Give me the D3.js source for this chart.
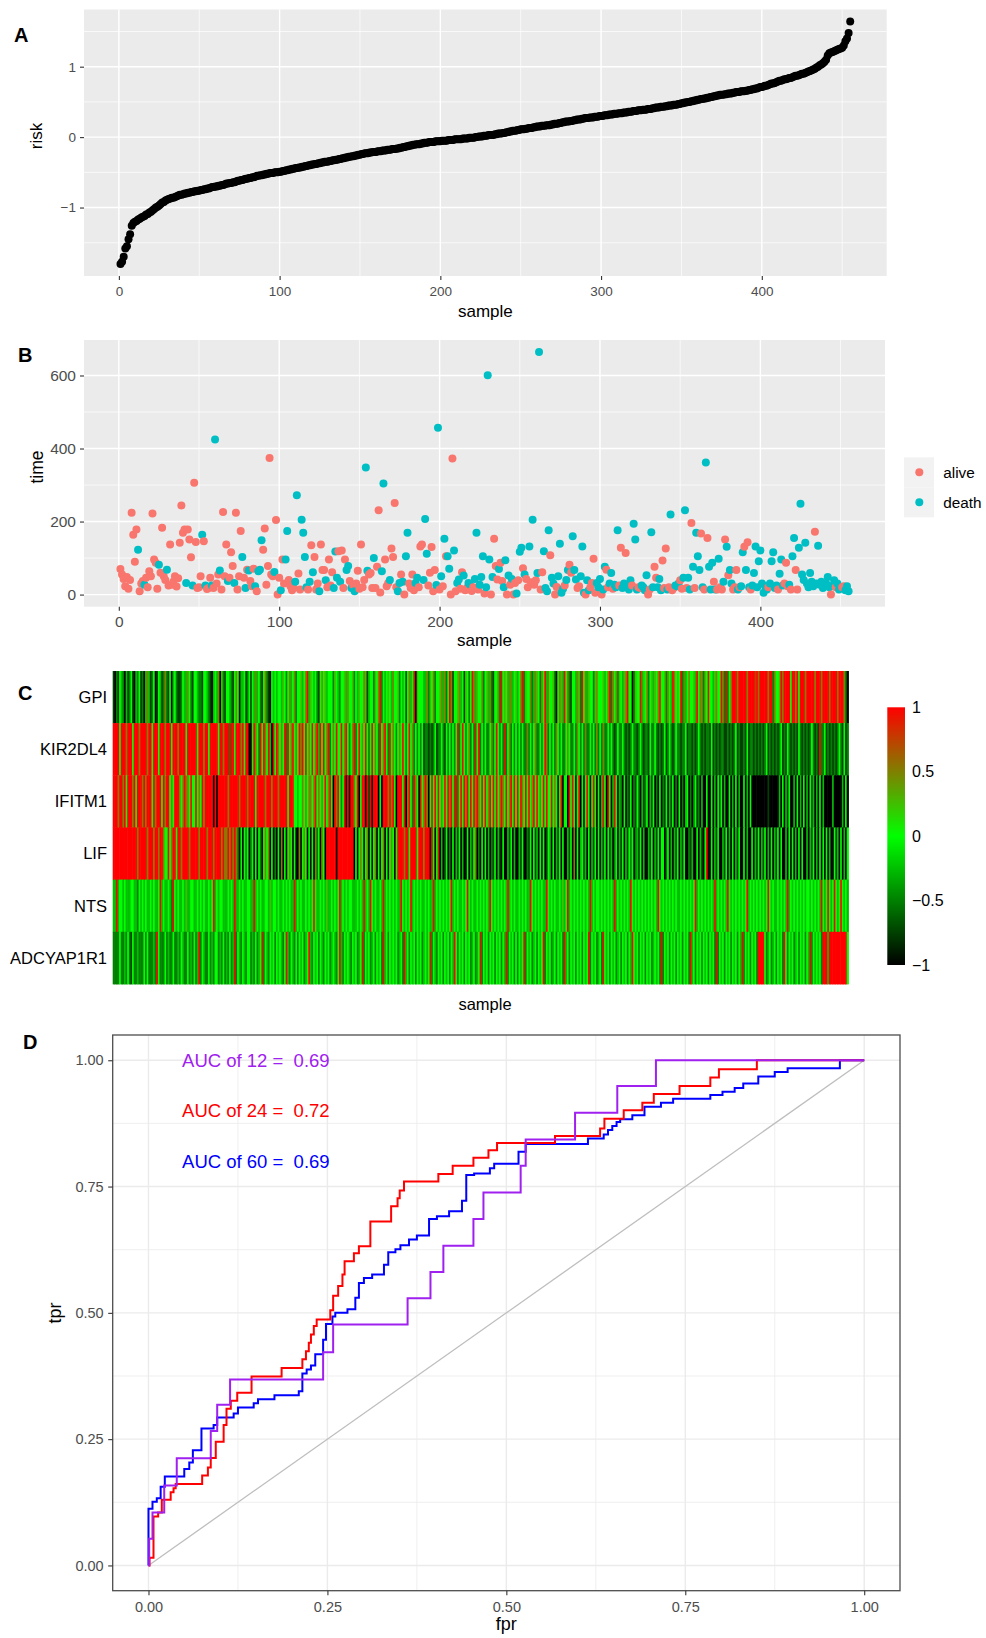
<!DOCTYPE html>
<html><head><meta charset="utf-8">
<script src="https://cdn.jsdelivr.net/npm/d3@7"></script>
<style>body{margin:0;background:#fff}svg{display:block}</style>
</head><body><svg id="c" width="986" height="1638"></svg>
<script>
// ---------------- DATA ----------------
// Panel A: sorted risk score per sample (samples 1..455)
const riskValues = [
-1.80,-1.77,-1.70,-1.58,-1.55,-1.45,-1.38,-1.26,-1.22,-1.20,
-1.19,-1.17,-1.16,-1.14,-1.13,-1.12,-1.10,-1.09,-1.07,-1.06,
-1.04,-1.02,-1.00,-0.99,-0.97,-0.95,-0.93,-0.92,-0.90,-0.89,
-0.88,-0.87,-0.86,-0.86,-0.85,-0.84,-0.83,-0.82,-0.82,-0.81,
-0.80,-0.80,-0.79,-0.79,-0.78,-0.78,-0.77,-0.77,-0.76,-0.76,
-0.75,-0.75,-0.74,-0.74,-0.73,-0.73,-0.72,-0.71,-0.71,-0.70,
-0.70,-0.69,-0.69,-0.68,-0.68,-0.67,-0.66,-0.66,-0.65,-0.65,
-0.64,-0.64,-0.63,-0.62,-0.62,-0.61,-0.61,-0.60,-0.59,-0.59,
-0.58,-0.58,-0.57,-0.57,-0.56,-0.55,-0.55,-0.54,-0.54,-0.53,
-0.53,-0.52,-0.52,-0.51,-0.51,-0.51,-0.50,-0.50,-0.50,-0.49,
-0.49,-0.48,-0.48,-0.47,-0.47,-0.46,-0.46,-0.45,-0.45,-0.44,
-0.44,-0.43,-0.43,-0.42,-0.42,-0.41,-0.41,-0.40,-0.40,-0.39,
-0.39,-0.38,-0.38,-0.37,-0.37,-0.36,-0.36,-0.35,-0.35,-0.35,
-0.34,-0.34,-0.33,-0.33,-0.32,-0.32,-0.31,-0.31,-0.30,-0.30,
-0.29,-0.29,-0.28,-0.28,-0.27,-0.27,-0.26,-0.26,-0.25,-0.25,
-0.24,-0.24,-0.23,-0.23,-0.23,-0.22,-0.22,-0.21,-0.21,-0.21,
-0.20,-0.20,-0.20,-0.19,-0.19,-0.19,-0.18,-0.18,-0.18,-0.17,
-0.17,-0.17,-0.16,-0.16,-0.15,-0.15,-0.14,-0.14,-0.13,-0.13,
-0.12,-0.12,-0.11,-0.11,-0.10,-0.10,-0.10,-0.09,-0.09,-0.08,
-0.08,-0.08,-0.07,-0.07,-0.07,-0.07,-0.06,-0.06,-0.06,-0.06,
-0.05,-0.05,-0.05,-0.05,-0.04,-0.04,-0.04,-0.04,-0.03,-0.03,
-0.03,-0.03,-0.03,-0.02,-0.02,-0.02,-0.02,-0.01,-0.01,-0.01,
-0.01,0.00,0.00,0.01,0.01,0.01,0.02,0.02,0.02,0.03,
0.03,0.03,0.03,0.04,0.04,0.05,0.05,0.05,0.06,0.06,
0.07,0.07,0.08,0.08,0.09,0.09,0.09,0.10,0.10,0.11,
0.11,0.11,0.12,0.12,0.13,0.13,0.13,0.14,0.14,0.15,
0.15,0.15,0.16,0.16,0.16,0.17,0.17,0.17,0.18,0.18,
0.19,0.19,0.19,0.20,0.20,0.21,0.21,0.22,0.22,0.22,
0.23,0.23,0.24,0.24,0.25,0.25,0.25,0.26,0.26,0.27,
0.27,0.27,0.28,0.28,0.28,0.29,0.29,0.29,0.30,0.30,
0.30,0.31,0.31,0.31,0.32,0.32,0.32,0.33,0.33,0.33,
0.34,0.34,0.34,0.35,0.35,0.35,0.36,0.36,0.36,0.37,
0.37,0.37,0.38,0.38,0.38,0.39,0.39,0.39,0.40,0.40,
0.40,0.41,0.41,0.42,0.42,0.42,0.43,0.43,0.43,0.44,
0.44,0.45,0.45,0.45,0.46,0.46,0.46,0.47,0.47,0.48,
0.48,0.49,0.49,0.50,0.50,0.51,0.51,0.52,0.52,0.53,
0.53,0.54,0.54,0.55,0.55,0.56,0.56,0.57,0.57,0.58,
0.58,0.59,0.59,0.60,0.60,0.60,0.61,0.61,0.62,0.62,
0.62,0.63,0.63,0.64,0.64,0.64,0.65,0.65,0.65,0.66,
0.66,0.67,0.67,0.68,0.68,0.69,0.69,0.70,0.71,0.71,
0.72,0.73,0.73,0.74,0.75,0.76,0.76,0.77,0.78,0.79,
0.80,0.80,0.81,0.82,0.82,0.83,0.84,0.84,0.85,0.86,
0.87,0.87,0.88,0.89,0.90,0.90,0.91,0.92,0.93,0.94,
0.95,0.96,0.97,0.99,1.00,1.02,1.03,1.05,1.07,1.10,
1.16,1.19,1.20,1.21,1.22,1.23,1.24,1.25,1.26,1.27,
1.30,1.36,1.40,1.48,1.64];

// Panel B: survival time per sample (same order)
const timeValues = [
70,55,43,23,48,16,40,224,164,90,
178,123,9,30,37,27,46,20,64,50,
222,96,87,16,82,60,183,50,40,68,
25,137,27,35,50,22,45,142,244,169,
178,32,178,151,102,25,306,144,18,20,
50,164,146,25,15,18,46,25,18,425,
30,55,66,14,226,50,137,37,46,116,
78,32,224,14,50,174,103,46,18,68,
66,37,23,71,23,9,64,68,149,123,
181,27,78,374,55,50,62,204,0,46,
12,96,30,96,174,40,23,12,18,35,
272,58,14,205,169,103,20,14,35,135,
61,103,14,30,9,137,67,67,39,20,
96,25,61,18,118,46,119,35,121,18,
96,67,78,37,18,27,9,30,65,16,
137,20,40,348,65,55,59,18,100,18,
76,231,6,64,304,96,23,32,40,126,
103,251,20,9,32,55,35,0,105,169,
30,18,55,12,32,46,20,132,137,40,
207,112,25,60,130,9,67,26,457,14,
50,23,153,105,105,71,0,373,121,9,
32,41,16,61,52,12,18,32,27,10,
20,43,169,14,27,48,105,3,20,601,
96,0,48,153,78,41,70,87,37,20,
94,0,52,27,43,0,32,3,39,117,
128,72,55,43,20,132,34,205,27,39,
59,664,14,61,119,18,9,176,108,46,
30,0,21,50,139,5,16,25,40,67,
82,60,160,67,41,18,23,50,132,5,
0,39,12,20,32,98,5,32,20,43,
0,14,76,68,20,30,59,16,27,20,
176,25,128,18,30,114,20,14,39,25,
194,151,14,20,18,25,20,12,53,0,
14,171,20,76,46,20,43,12,93,18,
126,14,20,219,12,18,25,23,30,39,
16,46,231,18,46,14,196,76,18,169,
105,67,167,20,14,362,155,76,14,87,
35,14,14,98,20,14,35,151,131,53,
67,30,14,20,67,14,20,23,116,131,
67,143,20,14,25,59,132,20,91,121,
30,5,23,14,20,30,91,116,18,25,
14,57,96,25,30,87,23,27,14,105,
155,67,14,128,249,55,40,142,30,20,
59,35,23,172,30,134,27,35,18,25,
30,48,20,0,25,39,20,30,14,18,
20,23,12,23,9];

// Panel B: status per sample, index into statusLabels (0 = alive, 1 = death)
const statusValues = [
0,0,0,0,0,0,0,0,0,0, 0,1,0,0,0,1,0,0,0,0, 0,0,0,0,1,0,0,0,0,1, 0,0,0,0,0,0,0,0,0,0,
0,1,0,0,0,1,0,0,0,0, 0,1,0,1,0,0,0,1,0,1, 0,0,1,0,0,0,0,1,0,0, 0,1,0,0,0,0,1,0,1,0,
1,0,0,0,1,0,1,1,1,0, 0,0,0,0,0,0,1,0,0,0, 1,0,0,1,1,0,0,0,0,1, 1,0,0,1,1,1,1,0,1,0,
1,0,0,0,1,0,0,0,1,0, 0,0,0,1,1,1,0,1,0,0, 0,1,1,0,1,0,1,0,0,0, 0,0,0,1,1,0,0,0,1,0,
0,0,0,1,1,0,0,0,1,0, 0,0,0,1,1,0,1,0,1,1, 0,0,0,0,1,1,0,0,0,1, 1,1,0,0,0,0,0,1,1,0,
1,0,1,0,1,1,0,0,1,0, 1,1,0,0,1,0,0,1,1,0, 0,1,1,0,1,1,1,0,1,1, 1,0,1,0,0,0,1,0,0,1,
1,0,1,0,1,0,0,1,0,1, 1,0,1,0,0,1,0,1,0,0, 1,1,0,0,1,1,1,1,0,1, 1,0,0,1,1,1,1,0,1,1,
0,0,1,1,1,0,0,1,1,1, 0,1,1,0,0,0,0,1,1,1, 0,1,1,0,0,1,1,0,1,1, 1,0,0,1,1,0,1,1,1,0,
1,1,1,0,0,1,1,1,1,0, 0,1,1,0,0,1,1,1,0,0, 0,1,0,1,0,0,1,1,1,0, 0,1,1,0,1,1,0,1,0,1,
1,1,0,1,0,1,0,1,1,1, 0,1,0,1,0,0,1,0,1,0, 1,1,0,0,0,1,0,1,1,0, 1,0,1,0,1,1,1,1,1,1,
1,1,1,1,0,1,1,1,1,1, 0,1,1,1,0,0,0,1,0,1, 1,0,0,1,1,1,1,1,1,1, 1,1,1,0,1,1,1,1,1,1,
1,1,1,0,1,1,0,1,1,1, 0,0,1,1,1];
const statusLabels = ["alive", "death"];
const statusColors = ["#F8766D", "#00BFC4"];

// Panel C: heatmap, one character per sample; each digit indexes heatLevelValues
const genes = ["GPI", "KIR2DL4", "IFITM1", "LIF", "NTS", "ADCYAP1R1"];
const heatLevelValues = [-1, -0.75, -0.5, -0.25, 0, 0.25, 0.5, 0.75, 1];
const heatGPI = `
1021432031 2410324120 3631240143 1262140342 1124336421
4432214432 1034360521 4432146403 3412414363 4214621043
4344354246 3462445346 8354342146 4534442543 2445364452
4354465134 4254682434 5436445243 4146348054 4433625462
4456362486 1445634154 2486354462 4536214462 8454636345
3468254462 3654264836 4452046538 4621443652 8463544256
4445346826 4625435684 4025448354 6245354684 4526438645
4826346445 3846625484 4356448628 2468886888 8868888786
8888868826 4458688884 8868488868 8888688868 8886888868
88620`;
const heatKIR2DL4 = `
8888488868 8848886888 8688488848 8868884888 6888848888
8848886884 8888848868 8828848886 8488004864 2848648308
4864648284 6846486848 4648468384 8468246484 4846842468
2484648424 8464284684 2846424648 4248462424 2412212124
1224214242 4248248424 6242848242 4224624842 4282462424
2424226242 4622424862 4242642422 4642242642 4262242426
2426224242 1242242121 2422124212 2142242121 2412421242
2122412212 1242121221 4121212211 2121241211 2141221212
1212412121 2124121421 2121421212 1242121822 4121212124
21412`;
const heatIFITM1 = `
8886886848 8868488868 6888486888 4868846488 8646866484
4846486888 8808088888 8688888868 8886888848 8888688868
8868888848 8844344646 4664684646 4846840868 4248080886
4804880818 0888040888 6868408884 8068428640 8468604848
4846484868 4828484868 4848686484 8468484846 8648468484
8486484846 8484648484 4846404804 4084840480 4048404840
4038408403 8403204021 4021420312 4031402040 2140314020
4020340202 4120300400 4030414030 0403040300 4030400000
0000010000 0030403140 0304030403 0413030403 0000030000
03040`;
const heatLIF = `
8888888888 8888868888 8688868868 8644846884 8868888688
8886888868 8868888686 6868686204 0424024040 4204646040
2040604046 4040060464 0404062406 4088888808 8888888880
4046404604 0460404604 0464048888 6884888848 8868880840
4803014020 4031403004 0314602040 4030214031 0400314030
0314002140 4130404014 3040314040 0314060403 4130403140
4031404130 2403140314 2402314030 0314031404 4024030314
0314002130 0403104800 4031400314 0304031400 4030040314
0314030403 1404003040 4030404003 0314030404 0403004130
40304`;
const heatNTS = `
3383443433 3443324343 4334343348 3433432843 4334353344
3343434334 3483434433 3434383343 4334433834 3433443534
4343343434 3383434334 3434843343 4353343434 8343434433
3434383438 4343343834 3434343384 3434834343 4334343383
4343434348 3434334348 4343343434 3438434343 4343834343
3434343384 3434343384 3434334353 4834343434 3434383434
4343434343 8343434343 8434343434 3434343843 4343434343
3434343434 8343434343 4383434343 8434343434 3483434343
4343484343 3434343834 3434343434 4343434384 3484348434
84343`;
const heatADCYAP1R1 = `
2222422324 2142232224 2422232842 2242322422 3243224232
4238243224 2324423242 3242382432 4324423242 3482432434
2434324832 4324243423 4832434243 2434234324 8324343243
4234824342 3424342834 2434342342 8342434243 4234348243
2434243424 3842434243 4234234824 3424342434 2438243424
2434824342 3424348243 4234243428 3424342434 2434824342
3428434243 4234243424 3843424342 4342343428 2434243424
3424342834 2434243424 3428243424 3424342438 2434243428
8884234234 2434284243 4234243424 3824343428 8838888888
88884`;
const colorbarTicks = [1, 0.5, 0, -0.5, -1];

// Panel D: ROC step points (fpr, tpr) at the top of each vertical step
const roc12Fpr = [0,0.001,0.0056,0.022,0.0395,0.087,0.096,0.114,0.244,0.258,0.362,0.394,0.412,0.454,0.468,0.52,0.527,0.596,0.655,0.709,1];
const roc12Tpr = [0,0.053,0.105,0.158,0.212,0.266,0.318,0.368,0.422,0.477,0.529,0.581,0.633,0.686,0.738,0.791,0.843,0.896,0.949,1,1];
const roc24Fpr = [0,0.0014,0.007,0.0135,0.0186,0.031,0.035,0.038,0.075,0.083,0.087,0.094,0.105,0.109,0.115,0.124,0.144,0.186,0.215,0.22,0.224,0.227,0.231,0.235,0.254,0.258,0.265,0.271,0.274,0.287,0.294,0.310,0.339,0.348,0.351,0.357,0.405,0.425,0.454,0.475,0.487,0.568,0.631,0.637,0.664,0.69,0.706,0.742,0.785,0.797,0.85,1];
const roc24Tpr = [0,0.015,0.097,0.105,0.13,0.145,0.153,0.161,0.178,0.194,0.2125,0.245,0.278,0.31,0.326,0.342,0.374,0.391,0.408,0.424,0.441,0.457,0.474,0.487,0.505,0.534,0.553,0.576,0.602,0.618,0.632,0.681,0.711,0.727,0.742,0.76,0.775,0.791,0.807,0.822,0.836,0.85,0.865,0.884,0.901,0.916,0.933,0.949,0.966,0.982,1,1];
const roc60Fpr = [0,0,0.0056,0.0116,0.017,0.0228,0.05,0.057,0.062,0.074,0.091,0.096,0.119,0.125,0.147,0.153,0.176,0.21,0.215,0.221,0.227,0.233,0.244,0.248,0.257,0.261,0.278,0.289,0.294,0.301,0.3125,0.329,0.335,0.345,0.352,0.364,0.375,0.392,0.403,0.42,0.438,0.444,0.455,0.477,0.483,0.517,0.527,0.614,0.636,0.642,0.648,0.654,0.659,0.676,0.693,0.716,0.733,0.785,0.802,0.819,0.831,0.852,0.875,0.893,0.966,1];
const roc60Tpr = [0,0.112,0.126,0.133,0.156,0.176,0.191,0.204,0.228,0.271,0.278,0.293,0.301,0.3125,0.321,0.329,0.337,0.345,0.38,0.388,0.396,0.418,0.447,0.478,0.493,0.5,0.507,0.53,0.559,0.569,0.576,0.595,0.62,0.626,0.634,0.645,0.653,0.686,0.691,0.701,0.722,0.773,0.776,0.786,0.795,0.819,0.834,0.845,0.853,0.862,0.87,0.878,0.883,0.891,0.908,0.916,0.924,0.931,0.9375,0.945,0.954,0.968,0.977,0.984,1,1];
const rocLabels = ["AUC of 12 =  0.69", "AUC of 24 =  0.72", "AUC of 60 =  0.69"];
const rocColors = ["#A020F0", "#FF0000", "#0000FF"];
const rocLabelY = [1.0, 0.9, 0.8];
const rocLabelX = 0.15;

// tick values
const sampleTicks = [0, 100, 200, 300, 400];
const sampleMinor = [50, 150, 250, 350, 450];
const riskTicks = [-1, 0, 1];
const riskMinor = [-1.5, -0.5, 0.5, 1.5];
const timeTicks = [0, 200, 400, 600];
const timeMinor = [100, 300, 500];
const rocTicks = [0, 0.25, 0.5, 0.75, 1];
const rocMinor = [0.125, 0.375, 0.625, 0.875];

// ---------------- DRAWING ----------------
const FONT = '"Liberation Sans", Arial, Helvetica, sans-serif';
const svg = d3.select("#c").attr("font-family", FONT);
const samples = d3.range(1, riskValues.length + 1);
const expand = (ext, m = 0.05) => { const p = (ext[1] - ext[0]) * m; return [ext[0] - p, ext[1] + p]; };
const intFmt = d3.format("d");

function gridLines(g, x, y, xVals, yVals, x0, x1, y0, y1, color, w) {
  g.selectAll(null).data(xVals).join("line")
    .attr("x1", d => x(d)).attr("x2", d => x(d)).attr("y1", y0).attr("y2", y1)
    .attr("stroke", color).attr("stroke-width", w);
  g.selectAll(null).data(yVals).join("line")
    .attr("y1", d => y(d)).attr("y2", d => y(d)).attr("x1", x0).attr("x2", x1)
    .attr("stroke", color).attr("stroke-width", w);
}
function styleAxis(g, fs) {
  g.attr("font-family", FONT).attr("font-size", fs);
  g.select(".domain").remove();
  g.selectAll(".tick line").attr("stroke", "#333").attr("stroke-width", 1.1);
  g.selectAll(".tick text").attr("fill", "#4D4D4D");
}
function panelLetter(t, x, y) {
  svg.append("text").attr("x", x).attr("y", y).attr("font-size", 20).attr("font-weight", "bold").attr("fill", "#000").text(t);
}

// ===== Panel A =====
{
  const L = 84, R = 886.7, T = 9.5, B = 276;
  const x = d3.scaleLinear().domain(expand(d3.extent(samples))).range([L, R]);
  const y = d3.scaleLinear().domain(expand(d3.extent(riskValues))).range([B, T]);
  const g = svg.append("g");
  g.append("rect").attr("x", L).attr("y", T).attr("width", R - L).attr("height", B - T).attr("fill", "#EBEBEB");
  gridLines(g, x, y, sampleMinor, riskMinor, L, R, T, B, "#fff", 0.7);
  gridLines(g, x, y, sampleTicks, riskTicks, L, R, T, B, "#fff", 1.4);
  g.selectAll("circle").data(samples).join("circle")
    .attr("cx", d => x(d)).attr("cy", (d, i) => y(riskValues[i])).attr("r", 4).attr("fill", "#000");
  const ax = g.append("g").attr("transform", `translate(0,${B})`).call(d3.axisBottom(x).tickValues(sampleTicks).tickFormat(intFmt).tickSize(4).tickPadding(6));
  styleAxis(ax, 13.5);
  const ay = g.append("g").attr("transform", `translate(${L},0)`).call(d3.axisLeft(y).tickValues(riskTicks).tickFormat(intFmt).tickSize(4).tickPadding(4));
  styleAxis(ay, 13.5);
  g.append("text").attr("x", (L + R) / 2).attr("y", 317).attr("text-anchor", "middle").attr("font-size", 17).text("sample");
  g.append("text").attr("transform", `translate(41.5,136) rotate(-90)`).attr("text-anchor", "middle").attr("font-size", 17).text("risk");
  panelLetter("A", 14, 42);
}

// ===== Panel B =====
{
  const L = 84, R = 885, T = 340, B = 606.7;
  const x = d3.scaleLinear().domain(expand(d3.extent(samples))).range([L, R]);
  const y = d3.scaleLinear().domain(expand(d3.extent(timeValues))).range([B, T]);
  const g = svg.append("g");
  g.append("rect").attr("x", L).attr("y", T).attr("width", R - L).attr("height", B - T).attr("fill", "#EBEBEB");
  gridLines(g, x, y, sampleMinor, timeMinor, L, R, T, B, "#fff", 0.7);
  gridLines(g, x, y, sampleTicks, timeTicks, L, R, T, B, "#fff", 1.4);
  g.selectAll("circle").data(samples).join("circle")
    .attr("cx", d => x(d)).attr("cy", (d, i) => y(timeValues[i])).attr("r", 4)
    .attr("fill", (d, i) => statusColors[statusValues[i]]);
  const ax = g.append("g").attr("transform", `translate(0,${B})`).call(d3.axisBottom(x).tickValues(sampleTicks).tickFormat(intFmt).tickSize(4).tickPadding(5.5));
  styleAxis(ax, 15.5);
  const ay = g.append("g").attr("transform", `translate(${L},0)`).call(d3.axisLeft(y).tickValues(timeTicks).tickFormat(intFmt).tickSize(4).tickPadding(4));
  styleAxis(ay, 15.5);
  g.append("text").attr("x", (L + R) / 2).attr("y", 645.5).attr("text-anchor", "middle").attr("font-size", 17).text("sample");
  g.append("text").attr("transform", `translate(42.5,467) rotate(-90)`).attr("text-anchor", "middle").attr("font-size", 17.5).text("time");
  // legend
  const lg = g.append("g");
  const keyY = d3.scaleBand().domain(statusLabels).range([457.3, 517.3]);
  lg.selectAll("rect").data(statusLabels).join("rect")
    .attr("x", 904).attr("y", d => keyY(d)).attr("width", 30).attr("height", keyY.bandwidth()).attr("fill", "#F2F2F2");
  lg.selectAll("circle").data(statusLabels).join("circle")
    .attr("cx", 919.3).attr("cy", d => keyY(d) + keyY.bandwidth() / 2).attr("r", 4).attr("fill", (d, i) => statusColors[i]);
  lg.selectAll("text").data(statusLabels).join("text")
    .attr("x", 943.3).attr("y", d => keyY(d) + keyY.bandwidth() / 2 + 5.4).attr("font-size", 15.3).attr("fill", "#000").text(d => d);
  panelLetter("B", 18, 362.3);
}

// ===== Panel C =====
{
  const heatStrings = [heatGPI, heatKIR2DL4, heatIFITM1, heatLIF, heatNTS, heatADCYAP1R1];
  const matrix = heatStrings.map(s => s.replace(/\s+/g, "").split("").map(ch => heatLevelValues[+ch]));
  const nCols = d3.max(matrix, r => r.length);
  const x = d3.scaleBand().domain(d3.range(nCols)).range([112.7, 848.3]);
  const y = d3.scaleBand().domain(genes).range([671, 984]);
  const color = d3.scaleLinear().domain([-1, 0, 1]).range(["#000000", "#00FF00", "#FF0000"]).clamp(true);
  const g = svg.append("g");
  genes.forEach((gene, r) => {
    g.append("g").selectAll("rect").data(matrix[r]).join("rect")
      .attr("x", (d, i) => x(i)).attr("y", y(gene)).attr("width", x.bandwidth() + 0.6).attr("height", y.bandwidth() + 0.4)
      .attr("fill", d => color(d));
  });
  g.selectAll("text.gene").data(genes).join("text").attr("class", "gene")
    .attr("x", 107).attr("y", d => y(d) + y.bandwidth() / 2 + 5.8).attr("text-anchor", "end").attr("font-size", 16.5).attr("fill", "#000").text(d => d);
  g.append("text").attr("x", 485).attr("y", 1010).attr("text-anchor", "middle").attr("font-size", 16.5).attr("fill", "#000").text("sample");
  // colour bar
  const cb = d3.scaleLinear().domain([-1, 1]).range([965, 707.3]);
  const grad = svg.append("defs").append("linearGradient").attr("id", "cbg").attr("x1", 0).attr("y1", 1).attr("x2", 0).attr("y2", 0);
  grad.selectAll("stop").data(d3.range(-1, 1.0001, 0.125)).join("stop")
    .attr("offset", d => (d + 1) / 2).attr("stop-color", d => color(d));
  g.append("rect").attr("x", 887.3).attr("y", cb(1)).attr("width", 17.7).attr("height", cb(-1) - cb(1)).attr("fill", "url(#cbg)");
  g.selectAll("text.cb").data(colorbarTicks).join("text").attr("class", "cb")
    .attr("x", 912).attr("y", d => cb(d) + 5.7).attr("font-size", 16).attr("fill", "#000").text(d => d3.format("")(d).replace("-", "\u2212"));
  panelLetter("C", 18, 700);
}

// ===== Panel D =====
{
  const L = 112.7, R = 900, T = 1035, B = 1590.7;
  const x = d3.scaleLinear().domain(expand([0, 1])).range([L, R]);
  const y = d3.scaleLinear().domain(expand([0, 1])).range([B, T]);
  const g = svg.append("g");
  g.append("rect").attr("x", L).attr("y", T).attr("width", R - L).attr("height", B - T).attr("fill", "#fff");
  gridLines(g, x, y, rocMinor, rocMinor, L, R, T, B, "#EBEBEB", 0.8);
  gridLines(g, x, y, rocTicks, rocTicks, L, R, T, B, "#EBEBEB", 1.4);
  g.append("line").attr("x1", x(0)).attr("y1", y(0)).attr("x2", x(1)).attr("y2", y(1)).attr("stroke", "#BEBEBE").attr("stroke-width", 1.3);
  const line = d3.line().x(d => x(d[0])).y(d => y(d[1])).curve(d3.curveStepAfter);
  const curves = [
    { f: roc60Fpr, t: roc60Tpr, c: rocColors[2] },
    { f: roc24Fpr, t: roc24Tpr, c: rocColors[1] },
    { f: roc12Fpr, t: roc12Tpr, c: rocColors[0] }
  ];
  curves.forEach(cv => {
    g.append("path").datum(d3.zip(cv.f, cv.t)).attr("d", line).attr("fill", "none").attr("stroke", cv.c).attr("stroke-width", 2);
  });
  g.selectAll("text.auc").data(rocLabels).join("text").attr("class", "auc")
    .attr("x", x(rocLabelX)).attr("y", (d, i) => y(rocLabelY[i]) + 6.5).attr("text-anchor", "middle")
    .attr("font-size", 18.5).attr("fill", (d, i) => rocColors[i]).style("white-space", "pre").text(d => d);
  g.append("rect").attr("x", L).attr("y", T).attr("width", R - L).attr("height", B - T).attr("fill", "none").attr("stroke", "#4D4D4D").attr("stroke-width", 1.3);
  const ax = g.append("g").attr("transform", `translate(0,${B})`).call(d3.axisBottom(x).tickValues(rocTicks).tickFormat(d3.format(".2f")).tickSize(4.5).tickPadding(6.5));
  styleAxis(ax, 14.5);
  const ay = g.append("g").attr("transform", `translate(${L},0)`).call(d3.axisLeft(y).tickValues(rocTicks).tickFormat(d3.format(".2f")).tickSize(4.5).tickPadding(4.5));
  styleAxis(ay, 14.5);
  g.append("text").attr("x", (L + R) / 2).attr("y", 1630).attr("text-anchor", "middle").attr("font-size", 18).attr("fill", "#000").text("fpr");
  g.append("text").attr("transform", `translate(61,1313) rotate(-90)`).attr("text-anchor", "middle").attr("font-size", 18).attr("fill", "#000").text("tpr");
  panelLetter("D", 23, 1049.3);
}
</script>
</body></html>
